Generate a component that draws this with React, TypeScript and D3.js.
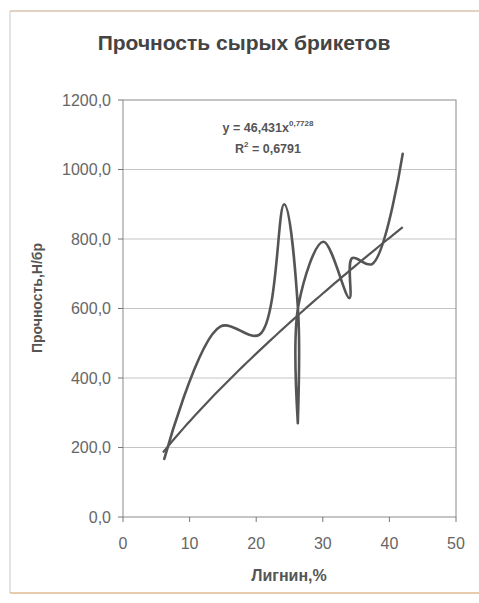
import React from "react";
import * as d3 from "d3";

const lignin = [6.2, 14.6, 20.5, 24.2, 26.3, 26.25, 26.35, 30.1, 34.0, 34.4, 37.4, 42.0];
const strength = [167, 548, 525, 900, 590, 270, 610, 792, 630, 745, 728, 1045];

const yTicks = [0, 200, 400, 600, 800, 1000, 1200];
const xTicks = [0, 10, 20, 30, 40, 50];

const trendCoef = 46.431;
const trendExp = 0.7728;
const trendFrom = 6;
const trendTo = 42;

const title = "Прочность сырых брикетов";
const xTitle = "Лигнин,%";
const yTitle = "Прочность,Н/бр";

const W = 479;
const H = 603;
const M = { left: 123, right: 456, top: 100, bottom: 517 };

export default function App() {
  const x = d3.scaleLinear().domain([0, 50]).range([M.left, M.right]);
  const y = d3.scaleLinear().domain([0, 1200]).range([M.bottom, M.top]);

  const pts: [number, number][] = lignin.map((v, i) => [v, strength[i]]);
  const line = d3
    .line<[number, number]>()
    .x((d) => x(d[0]))
    .y((d) => y(d[1]))
    .curve(d3.curveCatmullRom.alpha(0.5));

  const trendPts: [number, number][] = d3
    .range(0, 61)
    .map((i) => trendFrom + ((trendTo - trendFrom) * i) / 60)
    .map((v) => [v, trendCoef * Math.pow(v, trendExp)]);
  const trendLine = d3
    .line<[number, number]>()
    .x((d) => x(d[0]))
    .y((d) => y(d[1]));

  const fmt = (v: number) => v.toFixed(1).replace(".", ",");
  const font = "'Liberation Sans', Arial, sans-serif";

  return (
    <svg
      width={W}
      height={H}
      style={{ position: "absolute", left: 0, top: 0, background: "#fff" }}
      fontFamily={font}
    >
      {/* outer frame */}
      <line x1={10} x2={479} y1={11} y2={11} stroke="#d8c3ad" strokeWidth={1.5} />
      <line x1={10} x2={10} y1={11} y2={593} stroke="#c8c8c8" strokeWidth={1} />
      <line x1={10} x2={479} y1={593} y2={593} stroke="#e0b890" strokeWidth={1.5} />

      <text x={244} y={50} textAnchor="middle" fontSize={21} fontWeight="bold" fill="#444">
        {title}
      </text>

      {/* gridlines */}
      {yTicks.slice(1, -1).map((t) => (
        <line key={t} x1={M.left} x2={M.right} y1={y(t)} y2={y(t)} stroke="#c4c4c4" strokeWidth={1} />
      ))}

      {/* plot border */}
      <rect
        x={M.left}
        y={M.top}
        width={M.right - M.left}
        height={M.bottom - M.top}
        fill="none"
        stroke="#8a8a8a"
        strokeWidth={1}
      />

      {/* y ticks */}
      {yTicks.map((t) => (
        <g key={t}>
          <line x1={M.left - 5} x2={M.left} y1={y(t)} y2={y(t)} stroke="#777" />
          <text x={111} y={y(t)} dy="0.35em" textAnchor="end" fontSize={16} fill="#666">
            {fmt(t)}
          </text>
        </g>
      ))}

      {/* x ticks */}
      {xTicks.map((t) => (
        <g key={t}>
          <line x1={x(t)} x2={x(t)} y1={M.bottom} y2={M.bottom + 5} stroke="#777" />
          <text x={x(t)} y={549} textAnchor="middle" fontSize={16} fill="#666">
            {t}
          </text>
        </g>
      ))}

      <text x={289} y={581} textAnchor="middle" fontSize={16} fontWeight="bold" fill="#555">
        {xTitle}
      </text>
      <text
        transform={`translate(42, 298) rotate(-90)`}
        textAnchor="middle"
        fontSize={14}
        fontWeight="bold"
        fill="#555"
      >
        {yTitle}
      </text>

      {/* trend line */}
      <path d={trendLine(trendPts) || ""} fill="none" stroke="#555" strokeWidth={2.2} />
      {/* data curve */}
      <path
        d={line(pts) || ""}
        fill="none"
        stroke="#555"
        strokeWidth={2.6}
        strokeLinejoin="round"
        strokeLinecap="round"
      />

      {/* equation */}
      <text x={268} y={132} textAnchor="middle" fontSize={12.5} fontWeight="bold" fill="#555">
        y = 46,431x
        <tspan dy={-6} fontSize={8}>
          0,7728
        </tspan>
      </text>
      <text x={268} y={153} textAnchor="middle" fontSize={12.5} fontWeight="bold" fill="#555">
        R
        <tspan dy={-6} fontSize={8}>
          2
        </tspan>
        <tspan dy={6}> = 0,6791</tspan>
      </text>
    </svg>
  );
}
